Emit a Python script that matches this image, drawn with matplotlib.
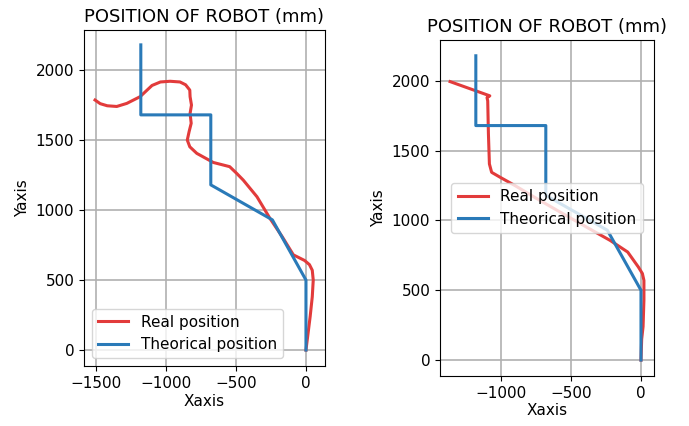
import matplotlib
matplotlib.use("Agg")
import matplotlib.pyplot as plt

# theoretical path (same for both runs)
theo_x = [0, 0, -240, -680, -680, -1180, -1180]
theo_y = [0, 500, 930, 1180, 1680, 1680, 2180]

# real path, run 1 (left)
real1_x = [0, 15, 30, 45, 52, 45, 25, -10, -90, -170, -257, -350, -448, -495,
           -545, -662, -780, -830, -848, -835, -820, -828, -818, -828, -830,
           -860, -900, -971, -1040, -1100, -1185, -1280, -1352, -1420, -1470, -1507]
real1_y = [0, 120, 240, 380, 500, 570, 610, 640, 680, 810, 940, 1095, 1214, 1262,
           1310, 1340, 1405, 1452, 1500, 1560, 1620, 1690, 1750, 1810, 1857,
           1895, 1915, 1920, 1915, 1890, 1810, 1762, 1740, 1745, 1760, 1786]

# real path, run 2 (right)
real2_x = [0, 5, 15, 21, 21, 10, -19, -95, -220, -388, -560, -750, -900, -1007,
           -1067, -1083, -1090, -1095, -1100, -1080, -1364]
real2_y = [0, 150, 240, 430, 571, 620, 667, 774, 857, 952, 1050, 1160, 1250, 1310,
           1345, 1405, 1620, 1857, 1880, 1893, 1995]

RED = "#e23b3b"
BLUE = "#2a7ab8"

fig = plt.figure(figsize=(6.89, 4.26), dpi=100)
ax1 = fig.add_axes([0.1219, 0.1408, 0.3498, 0.7887])
ax2 = fig.add_axes([0.6386, 0.1174, 0.3106, 0.7887])

setups = [
    (ax1, real1_x, real1_y, "lower left", (-1586, 136), (-114, 2286)),
    (ax2, real2_x, real2_y, "center", (-1436, 93), (-114, 2293)),
]

for ax, rx, ry, loc, xl, yl in setups:
    ax.plot(rx, ry, color=RED, lw=2.2, label="Real position")
    ax.plot(theo_x, theo_y, color=BLUE, lw=2.2, label="Theorical position")
    ax.set_xlim(*xl)
    ax.set_ylim(*yl)
    ax.set_title("POSITION OF ROBOT (mm)", fontsize=13)
    ax.set_xlabel("Xaxis", fontsize=11, labelpad=2)
    ax.set_ylabel("Yaxis", fontsize=11)
    ax.tick_params(labelsize=11)
    ax.grid(True, color="#b0b0b0", lw=1.2)
    ax.legend(loc=loc, fontsize=11)

ax1.set_xticks([-1500, -1000, -500, 0])
ax2.set_xticks([-1000, -500, 0])

fig.savefig("out.png", dpi=100)
